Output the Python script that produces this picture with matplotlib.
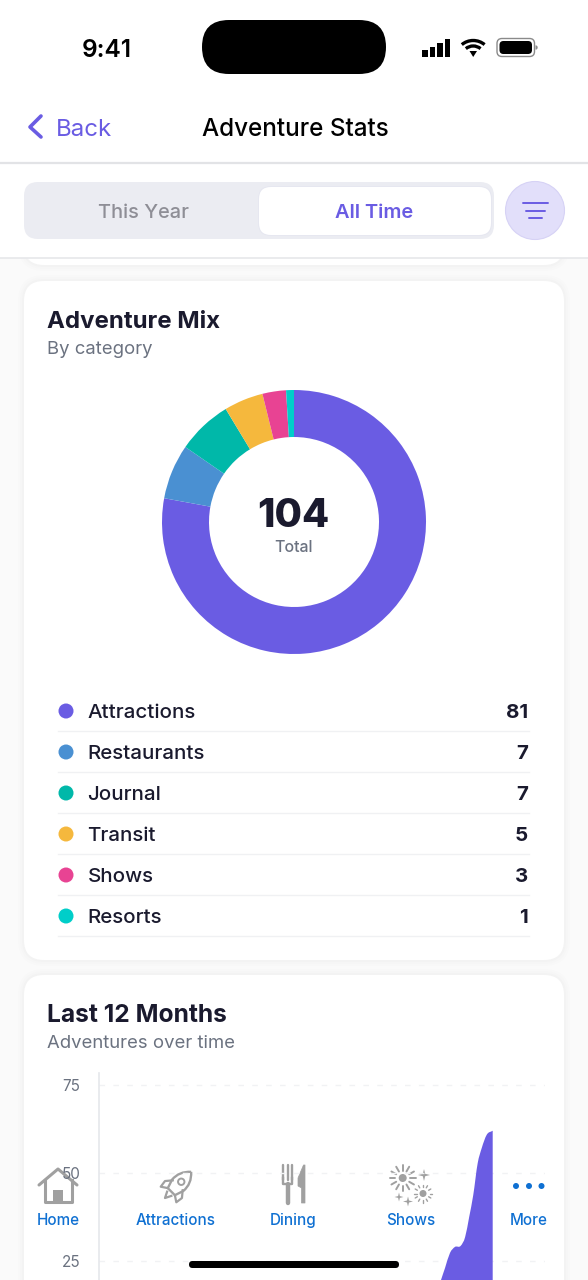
import numpy as np
import matplotlib
matplotlib.use("Agg")
import matplotlib.pyplot as plt
from matplotlib.patches import FancyBboxPatch, Circle, Ellipse, Polygon, Wedge, Arc, Rectangle, PathPatch
from matplotlib.path import Path
from matplotlib.transforms import Affine2D

plt.rcParams['font.family'] = ['Inter', 'DejaVu Sans']

# ---------- data ----------
categories = ["Attractions", "Restaurants", "Journal", "Transit", "Shows", "Resorts"]
counts = [81, 7, 7, 5, 3, 1]
colors = ["#6A5CE3", "#4A90D2", "#00B8A9", "#F5B83D", "#E84393", "#00CEC9"]
total_label = "104"
tab_labels = ["Home", "Attractions", "Dining", "Shows", "More"]
y_ticks = [25, 50, 75]
# area curve, month position (0 = axis) and adventures, as seen up to the visible edge
month_pos = [8.20, 8.435, 8.534, 8.657, 8.78, 8.92, 9.03, 9.13, 9.23, 9.34, 9.44, 9.56, 9.71]
adventures = [10, 19.6, 23.0, 27.3, 29.0, 29.3, 31.8, 37.5, 43.7, 52.8, 57.1, 60.8, 62]

PURPLE = "#6A5CE3"
DARK = "#1A1A2E"
GRAY = "#6B7280"
BLUE = "#0F70D2"
ICON = "#A0A0A0"
W, H = 588, 1280

fig = plt.figure(figsize=(W / 100, H / 100), dpi=100, facecolor="#FAFAFA")

def axes_px(x0, y0, x1, y1, **kw):
    return fig.add_axes([x0 / W, 1 - y1 / H, (x1 - x0) / W, (y1 - y0) / H], **kw)

def px_layer(z):
    a = fig.add_axes([0, 0, 1, 1], zorder=z)
    a.set_xlim(0, W); a.set_ylim(H, 0); a.axis("off"); a.patch.set_alpha(0)
    return a

def rrect(a, x0, y0, x1, y1, r, **kw):
    kw.setdefault("lw", 0)
    p = FancyBboxPatch((x0 + r, y0 + r), x1 - x0 - 2 * r, y1 - y0 - 2 * r,
                       boxstyle=f"round,pad={r},rounding_size={r}", **kw)
    a.add_patch(p)
    return p

def t(a, x, y, s, px, color="black", ha="left", weight="normal", **kw):
    return a.text(x, y, s, fontsize=px * 0.72, color=color, ha=ha, va="center_baseline",
                  fontweight=weight, **kw)

bg = px_layer(0)

# cards with soft shadow
def card(y0, y1):
    for grow, al in [(6, .006), (4, .008), (2, .01)]:
        rrect(bg, 24 - grow, y0 - grow, 564 + grow, y1 + grow, 20 + grow, fc="black", alpha=al)
    rrect(bg, 24, y0, 564, y1, 20, fc="white")

card(200, 265)
card(281, 960)
card(975, 1400)

# header
bg.add_patch(Rectangle((0, 0), W, 258, fc="white", lw=0, zorder=3))
bg.plot([0, W], [163, 163], color="#E2E3E6", lw=1.6, zorder=4)
bg.plot([0, W], [258, 258], color="#E6E7EA", lw=1.2, zorder=4)

rrect(bg, 24, 182, 494, 239, 14, fc="#EBECF2", zorder=4)
rrect(bg, 258, 186, 492, 236, 13, fc="#E6E7F0", zorder=4)
rrect(bg, 259, 187, 491, 235, 12, fc="white", zorder=4)
t(bg, 143, 211, "This Year", 20, color="#8E8E96", ha="center", weight="medium", zorder=5)
t(bg, 374, 211, "All Time", 20, color=PURPLE, ha="center", weight="semibold", zorder=5)
bg.add_patch(Ellipse((535, 210.5), 59, 58, fc="#E2DFFA", ec="#D6D2F5", lw=.8, zorder=4))
for x0, x1, y in [(523, 548, 203), (526, 545, 211), (529, 542, 218)]:
    bg.plot([x0, x1], [y, y], color=PURPLE, lw=1.4, solid_capstyle="round", zorder=5)

# status bar
rrect(bg, 202, 20, 386, 74, 27, fc="black", zorder=5)
t(bg, 107, 48, "9:41", 24.5, ha="center", weight="semibold", zorder=5)
for x, y0 in [(422, 50), (429.5, 47), (437, 43), (444.5, 39)]:
    bg.add_patch(Rectangle((x, y0), 5.5, 56.7 - y0, fc="black", lw=0, zorder=5))
for r, lw in [(15.5, 2.4), (10, 2.4)]:
    bg.add_patch(Arc((473.2, 56), 2 * r * 1.08, 2 * r, theta1=225, theta2=315, color="black", lw=lw, zorder=5))
bg.add_patch(Polygon([[469.5, 51], [477, 51], [473.2, 57]], fc="black", lw=0, zorder=5))
rrect(bg, 497, 38.5, 534.5, 56.5, 5, fc="white", ec="#8A8A8A", lw=1, zorder=5)
rrect(bg, 499.5, 41, 532, 54, 4, fc="black", zorder=5)
bg.add_patch(Wedge((535.5, 47.5), 2.2, -90, 90, fc="#8A8A8A", lw=0, zorder=5))

# nav bar
bg.plot([41, 30, 41], [116, 127, 137], color=PURPLE, lw=2.6, solid_capstyle="round",
        solid_joinstyle="round", zorder=5)
t(bg, 56, 127, "Back", 24, color=PURPLE, zorder=5)
t(bg, 295.5, 127, "Adventure Stats", 24.2, ha="center", weight="medium", zorder=5)

# Adventure Mix card
t(bg, 47, 319.5, "Adventure Mix", 24, color=DARK, weight="bold")
t(bg, 47, 348, "By category", 18.5, color=GRAY)

donut = axes_px(162, 390, 426, 654, zorder=1)
donut.pie(counts, colors=colors, startangle=90, counterclock=False, radius=1,
          wedgeprops=dict(width=47 / 132, lw=0))
donut.set_xlim(-1, 1); donut.set_ylim(-1, 1)
donut.text(-0.007, 0.042, total_label, fontsize=28.5, fontweight=800, color=DARK, ha="center", va="center")
donut.text(-0.007, -0.195, "Total", fontsize=11.5, fontweight="medium", color=GRAY, ha="center", va="center")

for i, (c, n, col) in enumerate(zip(categories, counts, colors)):
    y = 711 + 41 * i
    bg.add_patch(Circle((66, y), 7.5, fc=col, lw=0))
    t(bg, 87.5, y, c, 20.5, color=DARK, weight="medium")
    t(bg, 528, y, str(n), 20.5, color=DARK, ha="right", weight="bold")
    bg.plot([58, 529], [y + 20, y + 20], color="#F0F1F3", lw=1)

# Last 12 Months card
t(bg, 47, 1013.5, "Last 12 Months", 24.6, color=DARK, weight="bold")
t(bg, 47, 1042, "Adventures over time", 18.5, color=GRAY)

ax = axes_px(99, 1073, 545, 1349, zorder=6)
ax.patch.set_alpha(0)
ax.set_xlim(0, 11)
ax.set_ylim(0, 78.4)

def smooth_area(xs, ys):
    """Smooth Bezier outline passing through the read values, closed down to the baseline."""
    xs, ys = np.asarray(xs), np.asarray(ys)
    m = np.gradient(ys, xs)
    verts = [(xs[0], 0), (xs[0], ys[0])]
    codes = [Path.MOVETO, Path.LINETO]
    for i in range(len(xs) - 1):
        h = (xs[i + 1] - xs[i]) / 3
        verts += [(xs[i] + h, ys[i] + m[i] * h), (xs[i + 1] - h, ys[i + 1] - m[i + 1] * h), (xs[i + 1], ys[i + 1])]
        codes += [Path.CURVE4] * 3
    verts += [(xs[-1], 0), (xs[0], 0)]
    codes += [Path.LINETO, Path.CLOSEPOLY]
    return Path(verts, codes)

ax.add_patch(PathPatch(smooth_area(month_pos, adventures), fc=PURPLE, lw=0, zorder=2))
ax.set_yticks(y_ticks)
ax.set_yticklabels([str(v) for v in y_ticks], fontsize=11, color=GRAY)
ax.tick_params(axis="y", length=0, pad=13.5)
ax.set_xticks([])
ax.grid(axis="y", color="#F1F2F4", lw=1, dashes=(4, 6), zorder=1)
for s in ["top", "right", "bottom"]:
    ax.spines[s].set_visible(False)
ax.spines["left"].set_color("#E5E7EB")
ax.spines["left"].set_linewidth(1.2)

# tab bar overlay
ov = px_layer(5)
for x, s in zip([58, 176, 293.5, 411, 529], tab_labels):
    t(ov, x, 1219, s, 15.2, color=BLUE, ha="center", weight="medium")

# home icon
ov.plot([39, 58, 77], [1185, 1169, 1185], color=ICON, lw=2.2, solid_capstyle="round", solid_joinstyle="round")
ov.plot([44.5, 44.5, 71.5, 71.5], [1180, 1202, 1202, 1180], color=ICON, lw=2.2, solid_joinstyle="round")
ov.add_patch(Rectangle((53, 1190), 10, 12, fc=ICON, lw=0))

# rocket icon
tr = Affine2D().rotate_deg(45).translate(177, 1186) + ov.transData
body = Path([(0, -20), (9, -12), (8, -1), (5, 8), (-5, 8), (-8, -1), (-9, -12), (0, -20)],
            [Path.MOVETO, Path.CURVE3, Path.CURVE3, Path.LINETO, Path.LINETO, Path.LINETO, Path.CURVE3, Path.CURVE3])
ov.add_patch(PathPatch(body, fc="white", ec=ICON, lw=1.7, transform=tr, joinstyle="round"))
ov.add_patch(Circle((0, -6), 3.2, fc="white", ec=ICON, lw=1.4, transform=tr))
ov.plot([-7, -12, -11, -5], [-1, 5, 12, 8], color=ICON, lw=1.6, transform=tr, solid_joinstyle="round")
ov.plot([7, 12, 11, 5], [-1, 5, 12, 8], color=ICON, lw=1.6, transform=tr, solid_joinstyle="round")
ov.plot([-3, 0, 3], [11, 17, 11], color=ICON, lw=1.6, transform=tr, solid_joinstyle="round")

# fork and knife icon
for x in [283, 287.5, 292]:
    ov.plot([x, x], [1165, 1180], color=ICON, lw=1.7, solid_capstyle="round")
ov.plot([283, 283, 292, 292], [1178, 1184, 1184, 1178], color=ICON, lw=1.7)
ov.plot([287.5, 287.5], [1184, 1203], color=ICON, lw=3.2, solid_capstyle="round")
ov.add_patch(Polygon([[303.5, 1165], [298, 1178], [298, 1186], [301.5, 1188], [301.5, 1203],
                      [305, 1203], [305, 1165]], fc=ICON, ec=ICON, lw=.5, joinstyle="round"))

# fireworks icon
def burst(cx, cy, r0, r1, n, lw, core):
    ov.add_patch(Circle((cx, cy), core, fc=ICON, lw=0))
    for a in np.linspace(0, 2 * np.pi, n, endpoint=False):
        ov.plot([cx + r0 * np.cos(a), cx + r1 * np.cos(a)], [cy + r0 * np.sin(a), cy + r1 * np.sin(a)],
                color=ICON, lw=lw, solid_capstyle="round")

def star(cx, cy, r):
    q = r * .2
    ov.add_patch(Polygon([[cx, cy - r], [cx + q, cy - q], [cx + r, cy], [cx + q, cy + q],
                          [cx, cy + r], [cx - q, cy + q], [cx - r, cy], [cx - q, cy - q]], fc=ICON, lw=0))

burst(402.7, 1178, 7.5, 13, 12, 1.4, 4)
burst(423, 1193.5, 6.5, 9, 12, 1.0, 3.5)
star(424, 1175, 6)
star(399, 1197, 4.5)
star(408, 1201.5, 5)
for x in [516, 529, 541.5]:
    ov.add_patch(Circle((x, 1186), 3, fc=BLUE, lw=0))

top = px_layer(7)
rrect(top, 189, 1261, 399, 1268, 3.5, fc="black")

fig.savefig("out.png", dpi=100, facecolor=fig.get_facecolor())
